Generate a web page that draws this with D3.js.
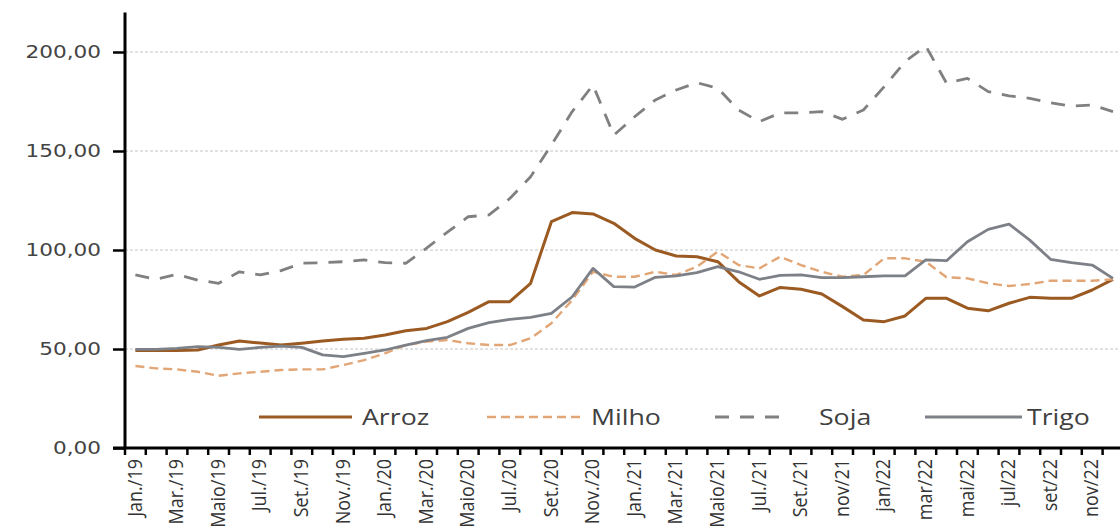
<!DOCTYPE html>
<html>
<head>
<meta charset="utf-8">
<script src="https://cdn.jsdelivr.net/npm/d3@7"></script>
<style>
  body { margin: 0; background: #fff; }
  svg { display: block; }
</style>
</head>
<body>
<div id="chart"></div>
<script>
// Month categories (Jan/19 .. Dez/22)
var months = ["Jan./19","Fev./19","Mar./19","Abr./19","Maio/19","Jun./19","Jul./19","Ago./19","Set./19","Out./19","Nov./19","Dez./19",
              "Jan./20","Fev./20","Mar./20","Abr./20","Maio/20","Jun./20","Jul./20","Ago./20","Set./20","Out./20","Nov./20","Dez./20",
              "Jan./21","Fev./21","Mar./21","Abr./21","Maio/21","Jun./21","Jul./21","Ago./21","Set./21","out/21","nov/21","dez/21",
              "jan/22","fev/22","mar/22","abr/22","mai/22","jun/22","jul/22","ago/22","set/22","out/22","nov/22","dez/22"];

// every second month gets a label
var tickLabels = ["Jan./19","Mar./19","Maio/19","Jul./19","Set./19","Nov./19","Jan./20","Mar./20","Maio/20","Jul./20","Set./20","Nov./20",
                  "Jan./21","Mar./21","Maio/21","Jul./21","Set./21","nov/21","jan/22","mar/22","mai/22","jul/22","set/22","nov/22"];

var yTicks = [0, 50, 100, 150, 200];

var arroz = [49.2,49.2,49.2,49.5,52,54,53,52,52.9,54,54.9,55.4,
             57.1,59.2,60.4,63.8,68.5,73.9,73.9,83.2,114.3,118.9,118.2,113.5,
             105.9,100,97,96.6,94.1,84,76.8,81.1,80.2,77.8,71.4,64.6,
             63.8,66.7,75.6,75.6,70.6,69.3,73.1,76.1,75.6,75.6,79.8,85.2];

var milho = [41.4,40.2,39.7,38.5,36.5,37.7,38.5,39.4,39.7,39.7,41.9,44.4,
             47.8,52,53.7,54.5,52.9,52,52,55.4,63,74.7,89,86.5,
             86.5,89,87.4,91.6,99.2,92.4,90.7,96.6,92.4,89,86.5,87.4,
             95.8,95.8,94.1,86.2,85.7,83.2,81.8,82.8,84.5,84.5,84.5,85.2];

var soja = [87.4,85.2,87.7,84.8,83.2,89,87.4,89.6,93.3,93.6,94.1,95,
            93.6,93.3,101,109,116.8,117.7,126,137,153,169.9,183.3,158,
            167.3,175.8,180.8,184.5,181.7,170.7,164.8,169.2,169.3,169.9,166,170.7,
            182.5,195.1,203,184.2,186.7,180,177.8,176.6,174.4,172.7,173.2,169.9];

var trigo = [49.8,49.8,50.3,51.2,50.8,49.8,50.8,51.5,50.8,47,46.1,47.8,
             49.5,52,54.2,55.9,60.4,63.3,65,66,68,76.4,90.7,81.5,
             81.3,86.2,86.9,88.6,91.6,89,85.2,87.2,87.4,86,86,86.5,
             86.9,86.9,95,94.6,104.2,110.4,113.1,105,95.3,93.6,92.4,85.7];

var seriesNames = ["Arroz", "Milho", "Soja", "Trigo"];

function init() {
    var w = 1120;
    var h = 532;
    var left = 125;
    var step = 20.8;
    var bottom = 448;
    var stretch = 1.2;   // the original picture is stretched sideways

    var series = [
        { name: seriesNames[0], values: arroz, color: "#9b5a22", width: 3,   dash: null },
        { name: seriesNames[1], values: milho, color: "#e2a676", width: 2.4, dash: "9 5" },
        { name: seriesNames[2], values: soja,  color: "#808080", width: 2.8, dash: "14 11" },
        { name: seriesNames[3], values: trigo, color: "#7d8086", width: 2.8, dash: null }
    ];

    var svg = d3.select("#chart")
        .append("svg")
        .attr("width", w)
        .attr("height", h);

    // category scale
    var xScale = d3.scaleBand()
        .domain(months)
        .range([left, left + step * months.length])
        .padding(0);

    var yScale = d3.scaleLinear()
        .domain([0, 220])
        .range([bottom, bottom - 220 * 1.98]);

    function cx(m) { return xScale(m) + xScale.bandwidth() / 2; }

    // gridlines
    svg.append("g")
        .selectAll("line")
        .data(yTicks.filter(function(d) { return d > 0; }))
        .enter().append("line")
        .attr("x1", left)
        .attr("x2", w)
        .attr("y1", function(d) { return yScale(d); })
        .attr("y2", function(d) { return yScale(d); })
        .attr("stroke", "#c4c4c4")
        .attr("stroke-width", 1)
        .attr("stroke-dasharray", "3 2");

    // lines
    var line = d3.line()
        .x(function(d, i) { return cx(months[i]); })
        .y(function(d) { return yScale(d); });

    series.forEach(function(s) {
        svg.append("path")
            .datum(s.values)
            .attr("d", line)
            .attr("fill", "none")
            .attr("stroke", s.color)
            .attr("stroke-width", s.width)
            .attr("stroke-linejoin", "round")
            .attr("stroke-dasharray", s.dash);
    });

    // y axis
    var yAxis = d3.axisLeft(yScale)
        .tickValues(yTicks)
        .tickSize(12)
        .tickFormat(function(d) { return d3.format(".2f")(d).replace(".", ","); });

    var gy = svg.append("g")
        .attr("transform", "translate(" + left + ",0)")
        .call(yAxis);
    gy.select(".domain").remove();
    gy.selectAll(".tick line").attr("stroke", "#000").attr("stroke-width", 2.5);
    gy.selectAll("text")
        .attr("x", -24 / stretch)
        .attr("transform", "scale(" + stretch + ",1)")
        .attr("fill", "#444")
        .style("font-family", "'DejaVu Sans', Verdana, sans-serif")
        .style("font-size", "18px");
    gy.append("line")
        .attr("x1", 0).attr("x2", 0)
        .attr("y1", yScale(220)).attr("y2", bottom)
        .attr("stroke", "#000").attr("stroke-width", 3);

    // x axis: ticks between categories
    var gx = svg.append("g");
    gx.append("line")
        .attr("x1", left - 12).attr("x2", w)
        .attr("y1", bottom).attr("y2", bottom)
        .attr("stroke", "#000").attr("stroke-width", 3);
    gx.selectAll("line.tk")
        .data(months)
        .enter().append("line")
        .attr("class", "tk")
        .attr("x1", function(d) { return xScale(d); })
        .attr("x2", function(d) { return xScale(d); })
        .attr("y1", bottom)
        .attr("y2", bottom + 7)
        .attr("stroke", "#000")
        .attr("stroke-width", 2.5);

    gx.selectAll("text")
        .data(tickLabels)
        .enter().append("text")
        .attr("transform", function(d, i) {
            return "translate(" + (cx(months[i * 2]) - 1) + "," + (bottom + 11) + ") scale(1.1,1) rotate(-90)";
        })
        .attr("text-anchor", "end")
        .attr("dy", "0.36em")
        .attr("fill", "#333")
        .style("font-family", "'Open Sans', sans-serif")
        .style("font-size", "18px")
        .text(function(d) { return d; });

    // legend
    var legendPos = [
        { x1: 259, x2: 352, tx: 362 },
        { x1: 487, x2: 581, tx: 591 },
        { x1: 715, x2: 790, tx: 819 },
        { x1: 925, x2: 1022, tx: 1027 }
    ];
    var legY = 417;
    var lg = svg.append("g");
    series.forEach(function(s, i) {
        var p = legendPos[i];
        lg.append("line")
            .attr("x1", p.x1).attr("x2", p.x2)
            .attr("y1", legY).attr("y2", legY)
            .attr("stroke", s.color)
            .attr("stroke-width", s.width)
            .attr("stroke-dasharray", s.dash);
        lg.append("text")
            .attr("transform", "translate(" + p.tx + "," + legY + ") scale(1.27,1)")
            .attr("dy", "0.36em")
            .attr("fill", "#404040")
            .style("font-family", "'Open Sans', sans-serif")
            .style("font-size", "21px")
            .text(s.name);
    });
}

init();
</script>
</body>
</html>
